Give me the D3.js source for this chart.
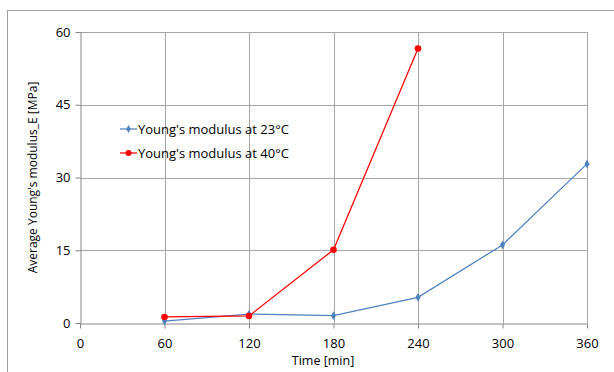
<!DOCTYPE html>
<html>
<head>
<meta charset="utf-8">
<script src="https://cdn.jsdelivr.net/npm/d3@7"></script>
<style>
  body { margin: 0; background: #fff; }
  text { font-family: "Open Sans", "Liberation Sans", sans-serif; fill: #000; }
  .tick text { font-size: 13px; }
  .gridline { stroke: #a6a6a6; stroke-width: 1; }
</style>
</head>
<body>
<div id="chart"></div>
<script>
// Data
const times = [60, 120, 180, 240, 300, 360];
const modulus23 = [0.4, 1.85, 1.5, 5.3, 16.1, 32.8];
const times40 = [60, 120, 180, 240];
const modulus40 = [1.25, 1.45, 15.1, 56.6];
const xTicks = [0, 60, 120, 180, 240, 300, 360];
const yTicks = [0, 15, 30, 45, 60];
const seriesNames = ["Young's modulus at 23°C", "Young's modulus at 40°C"];

const width = 614, height = 372;
const margin = { top: 32, right: 27, bottom: 49, left: 80 };

const svg = d3.select("#chart").append("svg")
    .attr("width", width)
    .attr("height", height);

// outer chart-area border (runs off right/bottom edge)
svg.append("rect")
    .attr("x", 7.5).attr("y", 10.5)
    .attr("width", 700).attr("height", 400)
    .attr("fill", "none")
    .attr("stroke", "#a0a0a0");

const xScale = d3.scaleLinear().domain([0, 360]).range([margin.left, width - margin.right]);
const yScale = d3.scaleLinear().domain([0, 60]).range([height - margin.bottom, margin.top]);

const focus = svg.append("g");

// grid lines
focus.selectAll(".gridline-x")
  .data(xTicks.slice(1))
  .enter().append("line")
    .attr("class", "gridline gridline-x")
    .attr("x1", d => Math.round(xScale(d)) + 0.5)
    .attr("x2", d => Math.round(xScale(d)) + 0.5)
    .attr("y1", yScale(0))
    .attr("y2", yScale(60));

focus.selectAll(".gridline-y")
  .data(yTicks.slice(1))
  .enter().append("line")
    .attr("class", "gridline gridline-y")
    .attr("y1", d => Math.round(yScale(d)) + 0.5)
    .attr("y2", d => Math.round(yScale(d)) + 0.5)
    .attr("x1", xScale(0))
    .attr("x2", xScale(360));

// axes
const xAxis = d3.axisBottom(xScale).tickValues(xTicks).tickSize(5).tickSizeOuter(0);
const yAxis = d3.axisLeft(yScale).tickValues(yTicks).tickSize(5).tickSizeOuter(0);

const xAxisGroup = focus.append("g")
    .attr("transform", "translate(0," + (Math.round(yScale(0)) + 0.5) + ")")
    .call(xAxis);
xAxisGroup.selectAll(".tick line").attr("y2", 5).attr("stroke", "#868686");
xAxisGroup.select(".domain").attr("stroke", "#868686");
xAxisGroup.selectAll(".tick text").attr("dy", "1.25em");

const yAxisGroup = focus.append("g")
    .attr("transform", "translate(" + (Math.round(xScale(0)) + 0.5) + ",0)")
    .call(yAxis);
yAxisGroup.selectAll(".tick line").attr("stroke", "#868686");
yAxisGroup.select(".domain").attr("stroke", "#868686");
yAxisGroup.selectAll(".tick text").attr("x", -10);

// axis titles
svg.append("text")
    .attr("x", 323)
    .attr("y", 365)
    .attr("text-anchor", "middle")
    .style("font-size", "12.5px")
    .text("Time [min]");

svg.append("text")
    .attr("transform", "translate(37," + ((yScale(0) + yScale(60)) / 2) + ") rotate(-90)")
    .attr("text-anchor", "middle")
    .style("font-size", "12px")
    .text("Average Young's modulus_E [MPa]");

// series
const line = d3.line().x(d => xScale(d[0])).y(d => yScale(d[1]));

const data23 = times.map((t, i) => [t, modulus23[i]]);
const data40 = times40.map((t, i) => [t, modulus40[i]]);

focus.append("path")
    .datum(data23)
    .attr("fill", "none")
    .attr("stroke", "#4f81bd")
    .attr("stroke-width", 1.25)
    .attr("d", line);

focus.selectAll(".pt23")
  .data(data23)
  .enter().append("path")
    .attr("class", "pt23")
    .attr("d", d3.symbol(d3.symbolDiamond, 22))
    .attr("transform", d => "translate(" + xScale(d[0]) + "," + yScale(d[1]) + ")")
    .attr("fill", "#4f81bd");

focus.append("path")
    .datum(data40)
    .attr("fill", "none")
    .attr("stroke", "#ff0000")
    .attr("stroke-width", 1.25)
    .attr("d", line);

focus.selectAll(".pt40")
  .data(data40)
  .enter().append("circle")
    .attr("class", "pt40")
    .attr("cx", d => xScale(d[0]))
    .attr("cy", d => yScale(d[1]))
    .attr("r", 3.3)
    .attr("fill", "#ff0000");

// legend
const legendColors = ["#4f81bd", "#ff0000"];
const legend = svg.append("g").attr("transform", "translate(120,129)");
seriesNames.forEach((name, i) => {
  const g = legend.append("g").attr("transform", "translate(0," + (i * 24) + ")");
  g.append("line")
      .attr("x1", 0).attr("x2", 17)
      .attr("stroke", legendColors[i])
      .attr("stroke-width", 1.25);
  if (i === 0) {
    g.append("path")
        .attr("d", d3.symbol(d3.symbolDiamond, 18))
        .attr("transform", "translate(8.5,0)")
        .attr("fill", legendColors[i]);
  } else {
    g.append("circle").attr("cx", 8.5).attr("r", 3).attr("fill", legendColors[i]);
  }
  g.append("text")
      .attr("x", 18)
      .attr("dy", "0.35em")
      .style("font-size", "13px")
      .text(name);
});
</script>
</body>
</html>
